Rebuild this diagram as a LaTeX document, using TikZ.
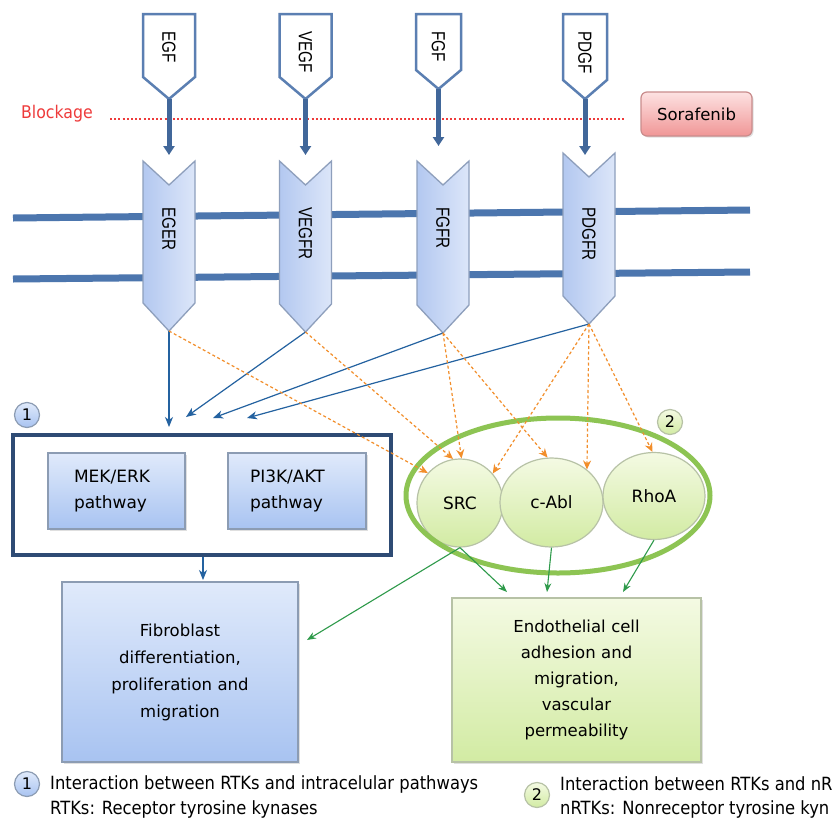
\documentclass[tikz,border=0pt]{standalone}
\usepackage{fontspec}
\setmainfont{DejaVu Sans}
\newfontfamily\condfont{DejaVu Sans Condensed}
\newfontfamily\arialnarrow[FakeStretch=0.8]{Liberation Sans}
\usetikzlibrary{arrows.meta,shapes.geometric,shadows}
\definecolor{ligblue}{HTML}{5B7FB2}
\definecolor{arrowblue}{HTML}{41679A}
\definecolor{membrane}{HTML}{4C76AE}
\definecolor{rcpborder}{HTML}{8E9FBC}
\definecolor{rcpL}{HTML}{B3C8F0}
\definecolor{rcpR}{HTML}{DCE6F9}
\definecolor{thinblue}{HTML}{2462A0}
\definecolor{dashorange}{HTML}{F28E2B}
\definecolor{arrowgreen}{HTML}{2E9A4A}
\definecolor{ringgreen}{HTML}{8DC453}
\definecolor{boxnavy}{HTML}{2E4B74}
\definecolor{bluetop}{HTML}{E0EAFB}
\definecolor{bluebot}{HTML}{A8C3F1}
\definecolor{greentop}{HTML}{F4FAE3}
\definecolor{greenbot}{HTML}{D2EBA3}
\definecolor{greenborder}{HTML}{B7C2A6}
\definecolor{boxborder}{HTML}{8C9CB3}
\definecolor{pinktop}{HTML}{FDE2E2}
\definecolor{pinkbot}{HTML}{F09696}
\definecolor{pinkborder}{HTML}{C98C8C}
\definecolor{blockred}{HTML}{EE3B3B}

\tikzset{
  ligand/.style={draw=ligblue, line width=2.5pt, fill=white, line join=miter},
  ligarrow/.style={draw=arrowblue, line width=5pt, -{Triangle[length=9pt,width=11pt]}},
  rcpshape/.style={draw=rcpborder, line width=1.3pt, left color=rcpL, right color=rcpR},
  vlabel/.style={rotate=-90, anchor=west, inner sep=0pt, font=\arialnarrow\fontsize{19}{19}\selectfont},
  membr/.style={draw=membrane, line width=7pt},
  bluebox/.style={draw=boxborder, line width=1.2pt, top color=bluetop, bottom color=bluebot,
    drop shadow={opacity=0.25, shadow xshift=1.5pt, shadow yshift=-1.5pt}},
  greenbox/.style={draw=greenborder, line width=1.2pt, top color=greentop, bottom color=greenbot,
    drop shadow={opacity=0.25, shadow xshift=1.5pt, shadow yshift=-1.5pt}},
  kinase/.style={ellipse, draw=greenborder, line width=1.2pt, top color=greentop, bottom color=greenbot,
    inner sep=0pt, font=\fontsize{17}{20}\selectfont},
  badgeblue/.style={circle, draw=boxborder, line width=1.2pt, top color=bluetop, bottom color=bluebot,
    minimum size=25pt, inner sep=0pt, font=\fontsize{16}{16}\selectfont},
  badgegreen/.style={circle, draw=greenborder, line width=1.2pt, top color=greentop, bottom color=greenbot,
    minimum size=25pt, inner sep=0pt, font=\fontsize{16}{16}\selectfont},
  bluearrow/.style={draw=thinblue, line width=1.2pt, -{Stealth[length=10pt,width=8pt,inset=3pt]}},
  orangearrow/.style={draw=dashorange, line width=1.2pt, dash pattern=on 3pt off 2.5pt,
    -{Stealth[length=9pt,width=8pt,inset=3pt]}},
  greenarrow/.style={draw=arrowgreen, line width=1.1pt, -{Stealth[length=9pt,width=7pt,inset=3pt]}},
  legendtext/.style={anchor=west, inner sep=0pt, font=\condfont\fontsize{18.2}{18}\selectfont},
}

\newcommand{\ligandshape}[6]{% name, cx, halfw, shoulder, tip, label
  \path[ligand] (#2-#3,14) -- (#2+#3,14) -- (#2+#3,#4) -- (#2,#5) -- (#2-#3,#4) -- cycle;
  \node[vlabel] (#1) at (#2,31) {#6};
  \coordinate (#1tip) at (#2,#5);
}
\newcommand{\receptorshape}[5]{% name, cx, top, shoulder, label
  \path[rcpshape] (#2-26,#3) -- (#2,#3+24) -- (#2+26,#3) -- (#2+26,#4) -- (#2,#4+28) -- (#2-26,#4) -- cycle;
  \node[vlabel] (#1) at (#2,207) {#5};
  \coordinate (#1tip) at (#2,#4+28);
}

\begin{document}
\begin{tikzpicture}[x=1pt, y=-1pt, font=\fontsize{16}{19}\selectfont]
\useasboundingbox[fill=white] (0,0) rectangle (836,820);

% membrane
\draw[membr] (13,218) -- (750,210);
\draw[membr] (13,279) -- (750,272);

% blockage
\node[inner sep=0pt, text=blockred, font=\condfont\fontsize{17.5}{17}\selectfont] (blockage) at (57,114) {Blockage};
\coordinate (blockL) at (110,119);
\coordinate (blockR) at (625,119);
\draw[blockred, line width=1.2pt, dash pattern=on 2pt off 2.2pt] (blockL) -- (blockR);

\node[draw=pinkborder, line width=1.2pt, rounded corners=6pt, top color=pinktop, bottom color=pinkbot,
  minimum width=111pt, minimum height=44pt, inner sep=0pt, font=\fontsize{16.5}{19}\selectfont,
  drop shadow={opacity=0.25, shadow xshift=1.5pt, shadow yshift=-1.5pt}] (sorafenib) at (696.5,114) {Sorafenib};

% ligands
\ligandshape{egf}{169}{26}{77}{99}{EGF}
\ligandshape{vegf}{305.5}{26}{77}{99}{VEGF}
\ligandshape{fgf}{438.5}{22.5}{70}{89}{FGF}
\ligandshape{pdgf}{585}{22}{80}{99}{PDGF}

\coordinate (egfEnd) at (169,155);
\coordinate (vegfEnd) at (305.5,155);
\coordinate (fgfEnd) at (438.5,146);
\coordinate (pdgfEnd) at (585,155);
\draw[ligarrow] (egftip) -- (egfEnd);
\draw[ligarrow] (vegftip) -- (vegfEnd);
\draw[ligarrow] (fgftip) -- (fgfEnd);
\draw[ligarrow] (pdgftip) -- (pdgfEnd);

% receptors
\receptorshape{eger}{169}{161}{303}{EGER}
\receptorshape{vegfr}{305.5}{161}{304}{VEGFR}
\receptorshape{fgfr}{443}{161}{305}{FGFR}
\receptorshape{pdgfr}{589}{153}{296}{PDGFR}

% intracellular pathways box
\node[badgeblue] (badge1) at (27,415) {1};
\node[draw=boxnavy, line width=4pt, minimum width=378pt, minimum height=120pt, inner sep=0pt] (group1) at (202,495) {};
\node[bluebox, minimum width=137pt, minimum height=76pt, inner sep=0pt, text width=85pt, align=left,
  font=\fontsize{17}{26}\selectfont] (mek) at (116.5,491) {MEK/ERK\\pathway};
\node[bluebox, minimum width=138pt, minimum height=76pt, inner sep=0pt, text width=94pt, align=left,
  font=\fontsize{17}{26}\selectfont] (pi3k) at (297,491) {PI3K/AKT\\pathway};

\node[bluebox, minimum width=236pt, minimum height=180pt, inner sep=0pt, text width=200pt, align=center,
  font=\fontsize{16.5}{27}\selectfont] (fibro) at (180,672)
  {Fibroblast\\differentiation,\\proliferation and\\migration};

\node[greenbox, minimum width=249pt, minimum height=164pt, inner sep=0pt, text width=200pt, align=center,
  font=\fontsize{16.5}{26.2}\selectfont] (endo) at (576.5,680)
  {Endothelial cell\\adhesion and\\migration,\\vascular\\permeability};

% non-receptor kinases
\node[kinase, minimum width=86pt, minimum height=88pt] (src) at (460,503) {SRC};
\node[kinase, minimum width=103pt, minimum height=89pt] (cabl) at (551.5,502.5) {c-Abl};
\node[kinase, minimum width=102pt, minimum height=87pt] (rhoa) at (654,496) {RhoA};
\node[ellipse, draw=ringgreen, line width=5pt, minimum width=304pt, minimum height=155pt, inner sep=0pt] (group2) at (558,495.5) {};
\node[badgegreen] (badge2) at (670,422) {2};

% blue arrows to pathways
\coordinate (b1) at (169,427);
\coordinate (b2) at (186,417);
\coordinate (b3) at (213,418);
\coordinate (b4) at (247,418);
\draw[bluearrow] (egertip) -- (b1);
\draw[bluearrow] (vegfrtip) -- (b2);
\draw[bluearrow] (fgfrtip) -- (b3);
\draw[bluearrow] (pdgfrtip) -- (b4);

% orange dashed arrows to non-receptor kinases
\draw[orangearrow] (egertip) -- (src.137);
\draw[orangearrow] (vegfrtip) -- (src.99);
\draw[orangearrow] (fgfrtip) -- (src.88);
\draw[orangearrow] (fgfrtip) -- (cabl.95);
\draw[orangearrow] (pdgfrtip) -- (src.42);
\draw[orangearrow] (pdgfrtip) -- (cabl.43);
\draw[orangearrow] (pdgfrtip) -- (rhoa.92);

% pathways to fibroblast
\coordinate (g1top) at (203,557);
\coordinate (fibTop) at (203,580);
\draw[bluearrow] (g1top) -- (fibTop);

% green arrows
\coordinate (e1) at (507,592);
\coordinate (e2) at (547,592);
\coordinate (e3) at (623,592);
\coordinate (f1) at (307,640);
\draw[greenarrow] (src.south) -- (f1);
\draw[greenarrow] (src.south) -- (e1);
\draw[greenarrow] (cabl.south) -- (e2);
\draw[greenarrow] (rhoa.south) -- (e3);

% legend
\node[badgeblue] (leg1) at (27,784) {1};
\node[legendtext] (leg1a) at (50,784) {Interaction between RTKs and intracelular pathways};
\node[legendtext] (leg1b) at (50,809) {RTKs: Receptor tyrosine kynases};
\node[badgegreen] (leg2) at (537,795) {2};
\node[legendtext] (leg2a) at (560,784) {Interaction between RTKs and nR};
\node[legendtext] (leg2b) at (560,809) {nRTKs: Nonreceptor tyrosine kyn};
\end{tikzpicture}
\end{document}
